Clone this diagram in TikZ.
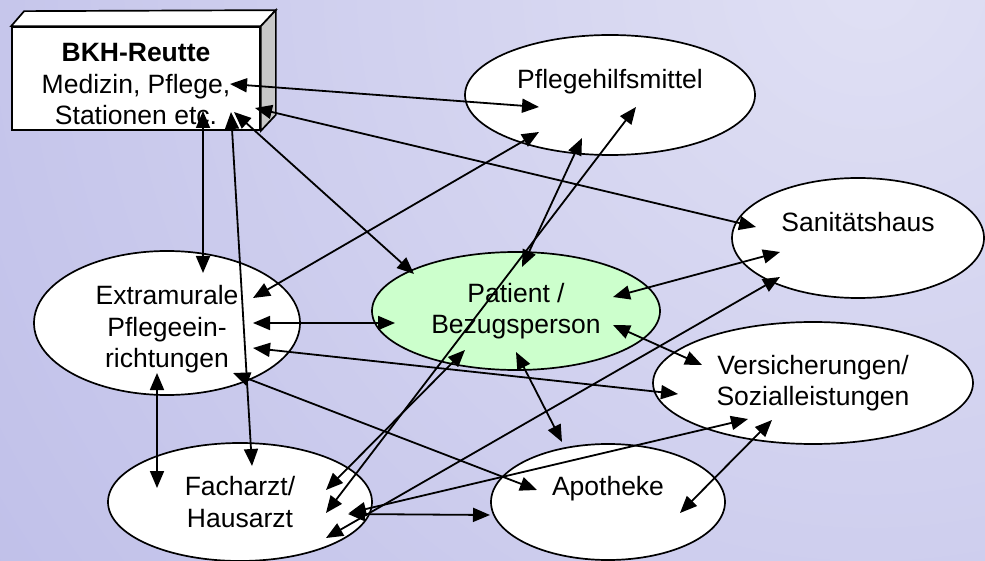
\documentclass[tikz,border=0pt]{standalone}
\usepackage{fontspec}
\setmainfont{Liberation Sans}
\usetikzlibrary{shapes.geometric,arrows.meta}
\definecolor{bgin}{RGB}{224,224,244}
\definecolor{bgout}{RGB}{183,183,230}
\definecolor{patfill}{RGB}{204,255,204}
\definecolor{sidegrey}{RGB}{200,200,200}
\begin{document}
\begin{tikzpicture}[x=1pt,y=-1pt,
  every node/.style={font=\fontsize{26.5}{31.5}\selectfont},
  ell/.style={ellipse, draw, line width=1.7pt, fill=white, inner sep=0pt, align=center},
  boxface/.style={draw, line width=1.7pt, line join=miter},
  conn/.style={line width=1.8pt, {Triangle[length=17pt,width=14pt]}-{Triangle[length=17pt,width=14pt]}}]
\useasboundingbox (0,0) rectangle (985,561);
\begin{scope}
  \clip (0,0) rectangle (985,561);
  \shade[inner color=bgin, outer color=bgout] (870,-20) circle (1360pt);
\end{scope}

% BKH box (3D)
\node[boxface, fill=white, minimum width=248pt, minimum height=103pt, inner sep=0pt, align=center] (bkh) at (136,78.5)
  {\rule{0pt}{30pt}\textbf{BKH-Reutte}\\Medizin, Pflege,\\Stationen etc.};
\draw[boxface, fill=white] (bkh.north west) -- ++(13,-15) -- ([shift={(15,-16)}]bkh.north east) -- (bkh.north east) -- cycle;
\draw[boxface, fill=sidegrey] (bkh.north east) -- ([shift={(15,-16)}]bkh.north east) -- ([shift={(15,-16)}]bkh.south east) -- (bkh.south east) -- cycle;

% ellipses
\node[ell, minimum width=290pt, minimum height=120pt] (pfl) at (610,95) {Pflegehilfsmittel\\\mbox{}};
\node[ell, minimum width=252pt, minimum height=120pt] (san) at (858,238) {Sanit\"atshaus\\\mbox{}};
\node[ell, fill=patfill, minimum width=288pt, minimum height=118pt] (pat) at (516,311) {Patient /\\Bezugsperson};
\node[ell, minimum width=266pt, minimum height=144pt] (ext) at (167,323) {\rule{0pt}{32pt}Extramurale\\Pflegeein-\\richtungen};
\node[ell, minimum width=264pt, minimum height=118pt] (fach) at (240,502) {Facharzt/\\Hausarzt};
\node[ell, minimum width=234pt, minimum height=116pt] (apo) at (608,502) {Apotheke\\\mbox{}};
\node[ell, minimum width=320pt, minimum height=122pt] (vers) at (813,383) {Versicherungen/\\Sozialleistungen};

% connector end points
\coordinate (bkh-a) at (230,84);
\coordinate (bkh-b) at (255,108);
\coordinate (bkh-c) at (234,112);
\coordinate (bkh-d) at (203,111);
\coordinate (bkh-e) at (231,112);
\coordinate (pfl-a) at (539,107);
\coordinate (pfl-b) at (539,132);
\coordinate (pfl-c) at (582,138);
\coordinate (pfl-d) at (636,107);
\coordinate (san-a) at (756,227);
\coordinate (san-b) at (780,252);
\coordinate (san-c) at (780,277);
\coordinate (pat-a) at (414,274);
\coordinate (pat-b) at (522,267);
\coordinate (pat-c) at (395,323);
\coordinate (pat-d) at (613,297);
\coordinate (pat-e) at (613,325);
\coordinate (pat-f) at (516,352);
\coordinate (pat-g) at (465,350);
\coordinate (ext-a) at (203,273);
\coordinate (ext-b) at (253,298);
\coordinate (ext-c) at (253,323);
\coordinate (ext-d) at (253,348);
\coordinate (ext-e) at (233,373);
\coordinate (ext-f) at (157,373);
\coordinate (fach-a) at (252,466);
\coordinate (fach-b) at (326,513);
\coordinate (fach-c) at (157,488);
\coordinate (fach-d) at (326,490);
\coordinate (fach-e) at (326,538);
\coordinate (fach-f) at (349,513);
\coordinate (fach-g) at (348,514);
\coordinate (apo-a) at (537,490);
\coordinate (apo-b) at (562,442);
\coordinate (apo-c) at (490,515);
\coordinate (apo-d) at (680,513);
\coordinate (vers-a) at (678,394);
\coordinate (vers-b) at (702,365);
\coordinate (vers-c) at (748,419);
\coordinate (vers-d) at (772,420);

% connectors
\draw[conn] (bkh-a) -- (pfl-a);
\draw[conn] (bkh-b) -- (san-a);
\draw[conn] (bkh-c) -- (pat-a);
\draw[conn] (bkh-d) -- (ext-a);
\draw[conn] (bkh-e) -- (fach-a);
\draw[conn] (pfl-b) -- (ext-b);
\draw[conn] (pfl-c) -- (pat-b);
\draw[conn] (pfl-d) -- (fach-b);
\draw[conn] (ext-c) -- (pat-c);
\draw[conn] (ext-d) -- (vers-a);
\draw[conn] (ext-e) -- (apo-a);
\draw[conn] (ext-f) -- (fach-c);
\draw[conn] (pat-d) -- (san-b);
\draw[conn] (pat-e) -- (vers-b);
\draw[conn] (pat-f) -- (apo-b);
\draw[conn] (pat-g) -- (fach-d);
\draw[conn] (fach-e) -- (san-c);
\draw[conn] (fach-f) -- (vers-c);
\draw[conn] (fach-g) -- (apo-c);
\draw[conn] (apo-d) -- (vers-d);
\end{tikzpicture}
\end{document}
